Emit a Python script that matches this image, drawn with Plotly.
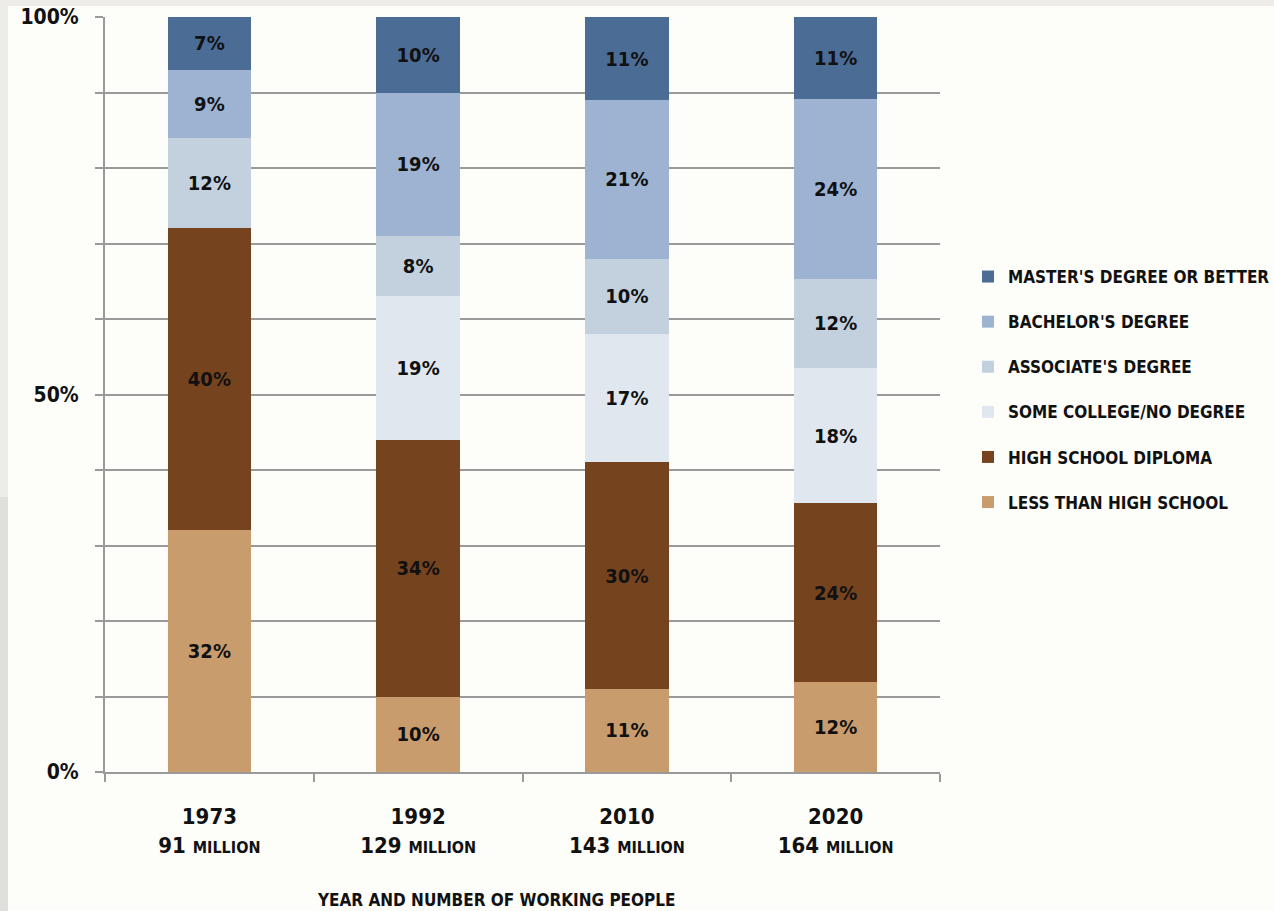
import plotly.graph_objects as go

# Workforce by education level, share of all working people
years = ["1973", "1992", "2010", "2020"]
workers = ["91", "129", "143", "164"]

less_than_hs = [32, 10, 11, 12]
high_school = [40, 34, 30, 24]
some_college = [0, 19, 17, 18]
associates = [12, 8, 10, 12]
bachelors = [9, 19, 21, 24]
masters = [7, 10, 11, 11]

series = [
    ("LESS THAN HIGH SCHOOL", less_than_hs, "#c99c6e"),
    ("HIGH SCHOOL DIPLOMA", high_school, "#76431f"),
    ("SOME COLLEGE/NO DEGREE", some_college, "#e1e7ee"),
    ("ASSOCIATE'S DEGREE", associates, "#c3d1df"),
    ("BACHELOR'S DEGREE", bachelors, "#9db3d1"),
    ("MASTER'S DEGREE OR BETTER", masters, "#4b6c95"),
]

FONT = "DejaVu Sans Condensed, DejaVu Sans, sans-serif"
W, H = 1274, 911
ML, MR, MT, MB = 105, 334, 17, 139

x_labels = [
    f"{y}<br>{n} <span style='font-size:16px'>MILLION</span>"
    for y, n in zip(years, workers)
]

fig = go.Figure()
for i, (name, vals, color) in enumerate(series):
    fig.add_trace(go.Bar(
        x=x_labels,
        y=vals,
        name=name,
        legendgroup=f"g{i}",
        legendrank=len(series) - i,
        marker=dict(color=color, line=dict(width=0)),
        width=0.40,
        text=[f"{v}%" if v else "" for v in vals],
        textposition="inside",
        insidetextanchor="middle",
        textangle=0,
        textfont=dict(family=FONT, size=20, color="#111111", weight="bold"),
        hoverinfo="skip",
    ))

tick_vals = list(range(0, 101, 10))
tick_text = [f"{v}%" if v in (0, 50, 100) else "" for v in tick_vals]

pw = W - ML - MR
ph = H - MT - MB


def px_x(p):
    return (p - ML) / pw


def px_y(p):
    return 1 - (p - MT) / ph


# light grey page edges
shapes = [
    dict(type="rect", xref="paper", yref="paper", layer="below",
         x0=px_x(0), x1=px_x(W), y0=px_y(6), y1=px_y(0),
         fillcolor="#edece8", line=dict(width=0)),
    dict(type="rect", xref="paper", yref="paper", layer="below",
         x0=px_x(0), x1=px_x(8), y0=px_y(497), y1=px_y(0),
         fillcolor="#edece8", line=dict(width=0)),
    dict(type="rect", xref="paper", yref="paper", layer="below",
         x0=px_x(0), x1=px_x(8), y0=px_y(H), y1=px_y(497),
         fillcolor="#e0dfdb", line=dict(width=0)),
]

fig.update_layout(
    width=W, height=H,
    margin=dict(l=ML, r=MR, t=MT, b=MB, autoexpand=False),
    paper_bgcolor="#fdfdf9",
    plot_bgcolor="#fdfdf9",
    barmode="stack",
    barnorm="percent",
    bargap=0.6,
    font=dict(family=FONT, size=20, color="#111111"),
    shapes=shapes,
    legend=dict(
        x=px_x(968), y=px_y(259), xanchor="left", yanchor="top",
        traceorder="grouped",
        tracegroupgap=20,
        font=dict(family=FONT, size=17, color="#111111", weight="bold"),
        bgcolor="rgba(0,0,0,0)",
    ),
    annotations=[dict(
        text="YEAR AND NUMBER OF WORKING PEOPLE",
        xref="paper", yref="paper",
        x=px_x(496), y=px_y(900),
        xanchor="center", yanchor="middle",
        showarrow=False,
        font=dict(family=FONT, size=17, color="#111111", weight="bold"),
    )],
)

fig.update_yaxes(
    range=[0, 100],
    tickvals=tick_vals,
    ticktext=tick_text,
    showgrid=True,
    gridcolor="#9a9a9a",
    gridwidth=2,
    ticks="outside",
    ticklen=8,
    tickwidth=2,
    tickcolor="#9a9a9a",
    showline=True,
    linecolor="#9a9a9a",
    linewidth=2,
    zeroline=False,
    ticklabelstandoff=12,
    tickfont=dict(family=FONT, size=21, color="#111111", weight="bold"),
)

fig.update_xaxes(
    range=[-0.5, 3.5],
    showgrid=False,
    tickson="boundaries",
    ticks="outside",
    ticklen=8,
    tickwidth=2,
    tickcolor="#9a9a9a",
    showline=True,
    linecolor="#9a9a9a",
    linewidth=2,
    ticklabelstandoff=24,
    tickfont=dict(family=FONT, size=22, color="#111111", weight="bold"),
)

fig.write_html("out.html")
